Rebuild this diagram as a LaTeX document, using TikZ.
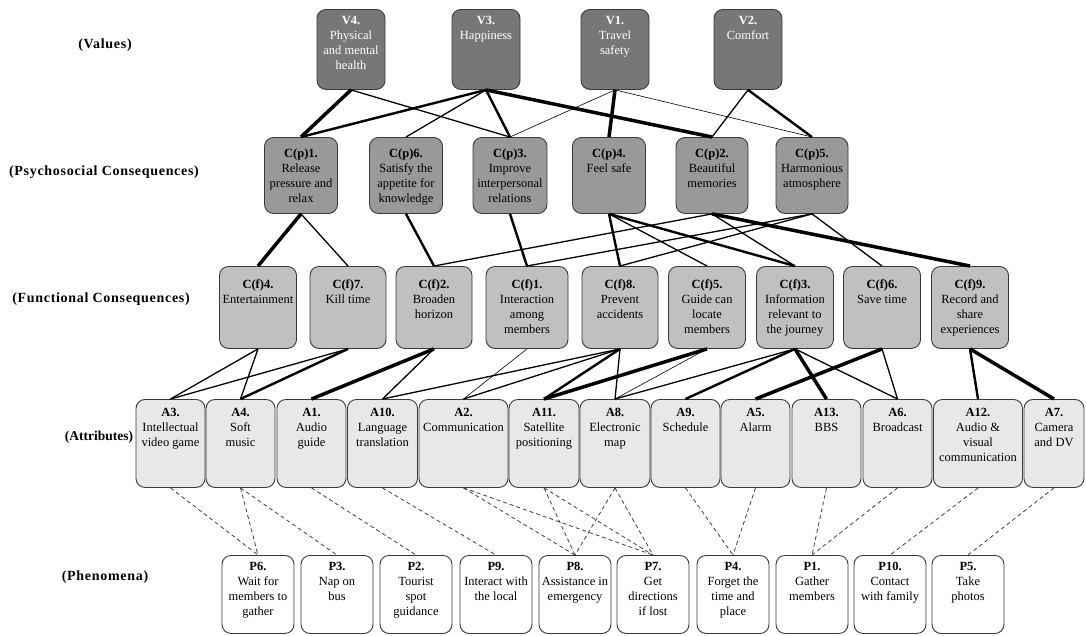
\documentclass[tikz,border=0pt]{standalone}
\usepackage{fontspec}
\setmainfont{Liberation Serif}
\definecolor{vgray}{HTML}{777777}
\definecolor{pgray}{HTML}{999999}
\definecolor{fgray}{HTML}{C0C0C0}
\definecolor{agray}{HTML}{E8E8E8}
\definecolor{bord}{HTML}{3A3A3A}
\tikzset{
  box/.style={draw=bord, line width=0.9pt, rounded corners=9pt, anchor=north, inner sep=0pt},
  vb/.style={box, fill=vgray},
  pb/.style={box, fill=pgray},
  fb/.style={box, fill=fgray},
  ab/.style={box, fill=agray},
  phb/.style={box, fill=white},
  txt/.style={anchor=north, align=center, inner sep=0pt, font=\fontsize{12.5}{15}\selectfont},
  rowlab/.style={font=\fontsize{14}{16}\selectfont\bfseries\addfontfeature{LetterSpace=5}, inner sep=0pt},
  e1/.style={line width=0.6pt},
  e2/.style={line width=1.3pt},
  e3/.style={line width=2.4pt},
  e4/.style={line width=3.5pt},
  dl/.style={dashed, line width=0.8pt, dash pattern=on 4pt off 3pt, black!75},
}
\newcommand\bx[8]{%
  \node[#1, minimum width=#5pt, minimum height=#6pt] (#2) at (#3,#4) {};
  \node[txt] (#2t) at ([yshift=-#7pt]#2.north) {#8};
}
\begin{document}
\begin{tikzpicture}[x=1pt,y=-1pt]
\useasboundingbox (0,0) rectangle (1086,635);
% row labels
\node[rowlab] (L1) at (105,45) {(Values)};
\node[rowlab] (L2) at (104,172) {(Psychosocial Consequences)};
\node[rowlab] (L3) at (101,299) {(Functional Consequences)};
\node[rowlab, font=\fontsize{13.5}{16}\selectfont\bfseries] (L4) at (99,437) {(Attributes)};
\node[rowlab] (L5) at (105,577) {(Phenomena)};
% values
\bx{vb}{V4}{351}{9}{68}{80}{7}{\color{white}\textbf{V4.}\\\color{white}Physical\\\color{white}and mental\\\color{white}health}
\bx{vb}{V3}{486}{9}{68}{80}{7}{\color{white}\textbf{V3.}\\\color{white}Happiness}
\bx{vb}{V1}{615}{9}{68}{80}{7}{\color{white}\textbf{V1.}\\\color{white}Travel\\\color{white}safety}
\bx{vb}{V2}{748}{9}{68}{80}{7}{\color{white}\textbf{V2.}\\\color{white}Comfort}
% psychosocial
\bx{pb}{Cp1}{301}{137}{73}{76}{12}{\textbf{C(p)1.}\\Release\\pressure and\\relax}
\bx{pb}{Cp6}{406}{137}{73}{76}{12}{\textbf{C(p)6.}\\Satisfy the\\appetite for\\knowledge}
\bx{pb}{Cp3}{510}{137}{74}{76}{12}{\textbf{C(p)3.}\\Improve\\interpersonal\\relations}
\bx{pb}{Cp4}{609}{137}{73}{76}{12}{\textbf{C(p)4.}\\Feel safe}
\bx{pb}{Cp2}{712}{137}{72}{76}{12}{\textbf{C(p)2.}\\Beautiful\\memories}
\bx{pb}{Cp5}{812}{137}{72}{76}{12}{\textbf{C(p)5.}\\Harmonious\\atmosphere}
% functional
\bx{fb}{Cf4}{258}{266}{77}{82}{13}{\textbf{C(f)4.}\\Entertainment}
\bx{fb}{Cf7}{348}{266}{76}{82}{13}{\textbf{C(f)7.}\\Kill time}
\bx{fb}{Cf2}{434}{266}{76}{82}{13}{\textbf{C(f)2.}\\Broaden\\horizon}
\bx{fb}{Cf1}{527}{266}{82}{82}{13}{\textbf{C(f)1.}\\Interaction\\among\\members}
\bx{fb}{Cf8}{620}{266}{76}{82}{13}{\textbf{C(f)8.}\\Prevent\\accidents}
\bx{fb}{Cf5}{707}{266}{77}{82}{13}{\textbf{C(f)5.}\\Guide can\\locate\\members}
\bx{fb}{Cf3}{795}{266}{77}{82}{13}{\textbf{C(f)3.}\\Information\\relevant to\\the journey}
\bx{fb}{Cf6}{882}{266}{77}{82}{13}{\textbf{C(f)6.}\\Save time}
\bx{fb}{Cf9}{970}{266}{77}{82}{13}{\textbf{C(f)9.}\\Record and\\share\\experiences}
% attributes
\bx{ab}{A3}{170.5}{399}{69}{88}{9}{\textbf{A3.}\\Intellectual\\video game}
\bx{ab}{A4}{240.5}{399}{69}{88}{9}{\textbf{A4.}\\Soft\\music}
\bx{ab}{A1}{311.5}{399}{69}{88}{9}{\textbf{A1.}\\Audio\\guide}
\bx{ab}{A10}{382.5}{399}{70}{88}{9}{\textbf{A10.}\\Language\\translation}
\bx{ab}{A2}{463.5}{399}{89}{88}{9}{\textbf{A2.}\\Communication}
\bx{ab}{A11}{544}{399}{70}{88}{9}{\textbf{A11.}\\Satellite\\positioning}
\bx{ab}{A8}{615}{399}{70}{88}{9}{\textbf{A8.}\\Electronic\\map}
\bx{ab}{A9}{685.5}{399}{69}{88}{9}{\textbf{A9.}\\Schedule}
\bx{ab}{A5}{755.5}{399}{69}{88}{9}{\textbf{A5.}\\Alarm}
\bx{ab}{A13}{826.5}{399}{69}{88}{9}{\textbf{A13.}\\BBS}
\bx{ab}{A6}{897.5}{399}{69}{88}{9}{\textbf{A6.}\\Broadcast}
\bx{ab}{A12}{978}{399}{89}{88}{9}{\textbf{A12.}\\Audio \&\\visual\\communication}
\bx{ab}{A7}{1054}{399}{60}{88}{9}{\textbf{A7.}\\Camera\\and DV}
% phenomena
\bx{phb}{P6}{258}{555}{72}{78}{7}{\textbf{P6.}\\Wait for\\members to\\gather}
\bx{phb}{P3}{337}{555}{72}{78}{7}{\textbf{P3.}\\Nap on\\bus}
\bx{phb}{P2}{416}{555}{72}{78}{7}{\textbf{P2.}\\Tourist\\spot\\guidance}
\bx{phb}{P9}{496}{555}{72}{78}{7}{\textbf{P9.}\\Interact with\\the local}
\bx{phb}{P8}{575}{555}{72}{78}{7}{\textbf{P8.}\\Assistance in\\emergency}
\bx{phb}{P7}{653}{555}{72}{78}{7}{\textbf{P7.}\\Get\\directions\\if lost}
\bx{phb}{P4}{733}{555}{72}{78}{7}{\textbf{P4.}\\Forget the\\time and\\place}
\bx{phb}{P1}{812}{555}{72}{78}{7}{\textbf{P1.}\\Gather\\members}
\bx{phb}{P10}{890}{555}{72}{78}{7}{\textbf{P10.}\\Contact\\with family}
\bx{phb}{P5}{968}{555}{72}{78}{7}{\textbf{P5.}\\Take\\photos}
% V -> Cp
\draw[e4] (V4.south) -- (Cp1.north);
\draw[e2] (V4.south) -- (Cp3.north);
\draw[e3] (V3.south) -- (Cp1.north);
\draw[e2] (V3.south) -- (Cp6.north);
\draw[e3] (V3.south) -- (Cp3.north);
\draw[e4] (V3.south) -- (Cp2.north);
\draw[e1] (V1.south) -- (Cp3.north);
\draw[e4] (V1.south) -- (Cp4.north);
\draw[e1] (V1.south) -- (Cp5.north);
\draw[e2] (V2.south) -- (Cp2.north);
\draw[e3] (V2.south) -- (Cp5.north);
% Cp -> Cf
\draw[e4] (Cp1.south) -- (Cf4.north);
\draw[e2] (Cp1.south) -- (Cf7.north);
\draw[e3] (Cp6.south) -- (Cf2.north);
\draw[e3] (Cp3.south) -- (Cf1.north);
\draw[e2] (Cp2.south) -- (Cf2.north);
\draw[e2] (Cp5.south) -- (Cf1.north);
\draw[e2] (Cp5.south) -- (Cf8.north);
\draw[e3] (Cp4.south) -- (Cf8.north);
\draw[e2] (Cp4.south) -- (Cf5.north);
\draw[e3] (Cp4.south) -- (Cf3.north);
\draw[e2] (Cp2.south) -- (Cf3.north);
\draw[e4] (Cp2.south) -- (Cf9.north);
\draw[e2] (Cp5.south) -- (Cf6.north);
% Cf -> A
\draw[e2] (Cf4.south) -- (A3.north);
\draw[e2] (Cf4.south) -- (A4.north);
\draw[e2] (Cf7.south) -- (A3.north);
\draw[e3] (Cf7.south) -- (A4.north);
\draw[e4] (Cf2.south) -- (A1.north);
\draw[e2] (Cf2.south) -- (A10.north);
\draw[e1] (Cf1.south) -- (A2.north);
\draw[e2] (Cf8.south) -- (A10.north);
\draw[e2] (Cf8.south) -- (A2.north);
\draw[e3] (Cf8.south) -- (A11.north);
\draw[e2] (Cf8.south) -- (A8.north);
\draw[e4] (Cf5.south) -- (A11.north);
\draw[e1] (Cf5.south) -- (A8.north);
\draw[e2] (Cf3.south) -- (A8.north);
\draw[e3] (Cf3.south) -- (A9.north);
\draw[e4] (Cf3.south) -- (A13.north);
\draw[e2] (Cf3.south) -- (A6.north);
\draw[e4] (Cf6.south) -- (A5.north);
\draw[e2] (Cf6.south) -- (A6.north);
\draw[e3] (Cf9.south) -- (A12.north);
\draw[e4] (Cf9.south) -- (A7.north);
% A -> P
\draw[dl] (A3.south) -- (P6.north);
\draw[dl] (A4.south) -- (P6.north);
\draw[dl] (A4.south) -- (P3.north);
\draw[dl] (A1.south) -- (P2.north);
\draw[dl] (A10.south) -- (P9.north);
\draw[dl] (A2.south) -- (P8.north);
\draw[dl] (A2.south) -- (P7.north);
\draw[dl] (A11.south) -- (P8.north);
\draw[dl] (A11.south) -- (P7.north);
\draw[dl] (A8.south) -- (P8.north);
\draw[dl] (A8.south) -- (P7.north);
\draw[dl] (A9.south) -- (P4.north);
\draw[dl] (A5.south) -- (P4.north);
\draw[dl] (A13.south) -- (P1.north);
\draw[dl] (A6.south) -- (P1.north);
\draw[dl] (A12.south) -- (P10.north);
\draw[dl] (A7.south) -- (P5.north);
\end{tikzpicture}
\end{document}
